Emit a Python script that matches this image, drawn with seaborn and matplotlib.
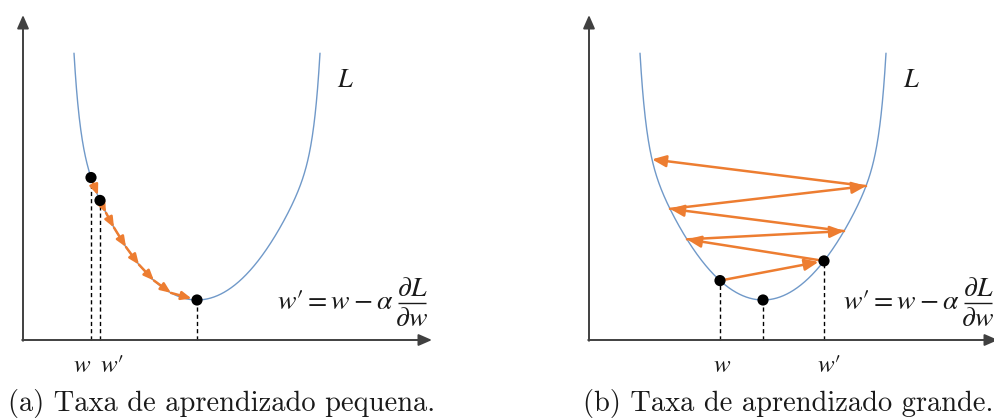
import numpy as np
import pandas as pd
import matplotlib
matplotlib.use("Agg")
import matplotlib.pyplot as plt
import seaborn as sns

# Loss curve: L(w) = L_MIN + A_QUAD*(w - W_OPT)^2 + B_STEEP*(w - W_OPT)^20
W_OPT = 1.74
L_MIN = 0.40
A_QUAD = 1.05
B_STEEP = 0.014
STEEP_POWER = 20
W_HALF_SPAN = 1.23

# gradient-descent iterates for each learning rate
small_lr_steps = [0.68, 0.77, 0.83, 0.91, 1.03, 1.16, 1.31, 1.48, 1.74]
large_lr_steps = [1.31, 2.35, 0.98, 2.55, 0.81, 2.77, 0.63]

# highlighted points (black dots with dashed drop lines)
small_dots = [0.68, 0.77, 1.74]
large_dots = [1.31, 1.74, 2.35]

# w / w' markers on the horizontal axis
small_ticks = [0.68, 0.77]
large_ticks = [1.31, 2.35]
tick_labels = [r"$w$", r"$w\prime$"]

captions = ["(a) Taxa de aprendizado pequena.", "(b) Taxa de aprendizado grande."]
curve_label = "$L$"
# update rule  w' = w - alpha * dL/dw, typeset as left part + stacked fraction
rule_lhs = r"$w\prime = w - \alpha$"
rule_num = r"$\partial L$"
rule_den = r"$\partial w$"

AXIS_COLOR = "#404040"
CURVE_COLOR = "#7099c9"
STEP_COLOR = "#ed7d31"
TEXT_COLOR = "#1a1a1a"

sns.set_style("white")
plt.rcParams["mathtext.fontset"] = "stix"


def loss(w):
    d = np.asarray(w, dtype=float) - W_OPT
    return L_MIN + A_QUAD * d ** 2 + B_STEEP * d ** STEEP_POWER


def draw_rule(ax, fs=20):
    ax.text(3.70, 0.31, rule_lhs, ha="right", va="baseline", fontsize=fs,
            color=TEXT_COLOR)
    ax.plot([3.75, 4.03], [0.37, 0.37], color=TEXT_COLOR, lw=1.0,
            solid_capstyle="butt", clip_on=False)
    ax.text(3.89, 0.385, rule_num, ha="center", va="bottom", fontsize=fs,
            color=TEXT_COLOR)
    ax.text(3.89, 0.355, rule_den, ha="center", va="top", fontsize=fs,
            color=TEXT_COLOR)


def draw_panel(ax, steps, dots, ticks, tick_offsets, caption, head_ms, dot_targets):
    ax.axis("off")
    # coordinate axes with arrow tips
    head = "-|>,head_length=0.8,head_width=0.35"
    ax.annotate("", xy=(0, 3.25), xytext=(0, -0.008),
                arrowprops=dict(arrowstyle=head, mutation_scale=10, color=AXIS_COLOR,
                                lw=1.4, shrinkA=0, shrinkB=0), annotation_clip=False)
    ax.annotate("", xy=(4.09, 0), xytext=(-0.008, 0),
                arrowprops=dict(arrowstyle=head, mutation_scale=10, color=AXIS_COLOR,
                                lw=1.4, shrinkA=0, shrinkB=0), annotation_clip=False)

    # loss curve
    w_grid = np.linspace(W_OPT - W_HALF_SPAN, W_OPT + W_HALF_SPAN, 800)
    curve = pd.DataFrame({"w": w_grid, "L": loss(w_grid)})
    sns.lineplot(data=curve, x="w", y="L", ax=ax, color=CURVE_COLOR, lw=1.0,
                 estimator=None, sort=False)

    # dashed drop lines
    for w in dots:
        ax.plot([w, w], [0, loss(w)], ls=(0, (3.0, 2.2)), color="black", lw=1.0, zorder=2)

    # gradient steps
    for i in range(len(steps) - 1):
        w0, w1 = steps[i], steps[i + 1]
        end_on_dot = w1 in dot_targets
        ax.annotate("", xy=(w1, loss(w1)), xytext=(w0, loss(w0)),
                    arrowprops=dict(arrowstyle="-|>,head_length=0.6,head_width=0.25",
                                    mutation_scale=head_ms, color=STEP_COLOR, lw=1.8,
                                    shrinkA=0, shrinkB=4 if end_on_dot else 0),
                    zorder=3)

    # black dots
    sns.scatterplot(x=dots, y=list(loss(dots)), ax=ax, color="black", s=65,
                    edgecolor="none", zorder=5, legend=False)

    for w, lab, off in zip(ticks, tick_labels, tick_offsets):
        ax.text(w + off, -0.32, lab, ha="left", va="baseline", fontsize=18,
                color=TEXT_COLOR)

    ax.text(3.22, 2.60, curve_label, ha="center", va="center", fontsize=19,
            color=TEXT_COLOR)
    draw_rule(ax)
    ax.text(1.99, -0.63, caption, ha="center", va="center", fontsize=20.5,
            family="cmr10", color=TEXT_COLOR)
    ax.set_ylim(-0.79, 3.40)


fig = plt.figure(figsize=(9.95, 4.19), dpi=100)
ax_a = fig.add_axes([0, 0, 497 / 995, 1])
ax_b = fig.add_axes([497 / 995, 0, 498 / 995, 1])

draw_panel(ax_a, small_lr_steps, small_dots, small_ticks, [-0.18, 0.0],
           captions[0], 10, [0.77, 1.74])
ax_a.set_xlim(-0.23, 4.74)

draw_panel(ax_b, large_lr_steps, large_dots, large_ticks, [-0.07, -0.07],
           captions[1], 14, [2.35])
ax_b.set_xlim(-0.92, 4.06)

fig.savefig("out.png", dpi=100)
